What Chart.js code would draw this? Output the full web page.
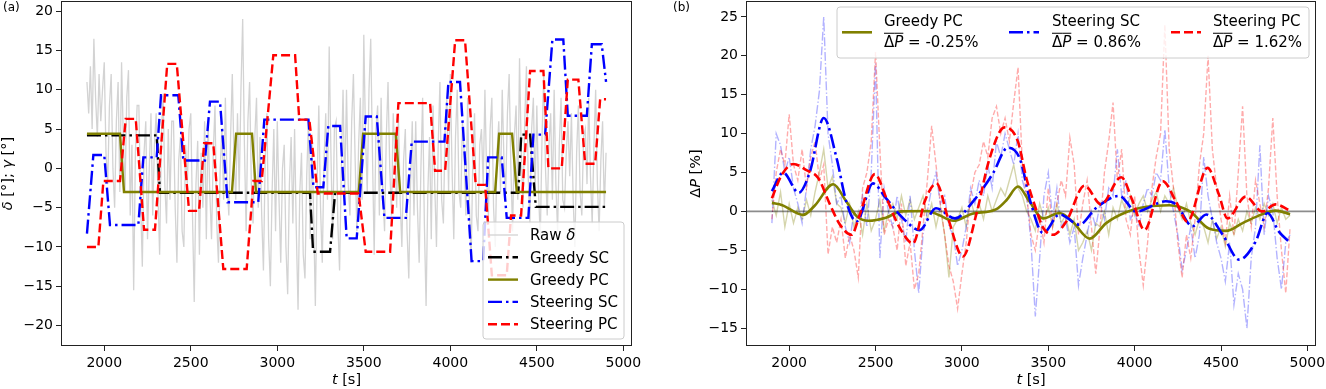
<!DOCTYPE html>
<html>
<head>
<meta charset="utf-8">
<script src="https://cdn.jsdelivr.net/npm/chart.js@4.4.1/dist/chart.umd.min.js"></script>
<style>
  html, body { margin: 0; padding: 0; background: #fff; }
  #wrap { position: relative; width: 1326px; height: 389px; overflow: hidden; }
  .panel { position: absolute; top: 0; width: 663px; height: 389px; }
</style>
</head>
<body>
<div id="wrap">
  <div class="panel" style="left:0"><canvas id="chartA" width="663" height="389"></canvas></div>
  <div class="panel" style="left:663px"><canvas id="chartB" width="663" height="389"></canvas></div>
</div>
<script>
// ---- datos ----
const xTicks = [2000, 2500, 3000, 3500, 4000, 4500, 5000];
const yTicksA = [-20, -15, -10, -5, 0, 5, 10, 15, 20];
const yTicksB = [-15, -10, -5, 0, 5, 10, 15, 20, 25];
const meanLabels = ['-0.25%', '0.86%', '1.62%'];

// panel (a): delta crudo, muestreado cada 10 s
const rawDeltaTimes = [
  1900,1910,1920,1930,1940,1950,1960,1970,1980,1990, 2000,2010,2020,2030,2040,2050,2060,2070,2080,2090,
  2100,2110,2120,2130,2140,2150,2160,2170,2180,2190, 2200,2210,2220,2230,2240,2250,2260,2270,2280,2290,
  2300,2310,2320,2330,2340,2350,2360,2370,2380,2390, 2400,2410,2420,2430,2440,2450,2460,2470,2480,2490,
  2500,2510,2520,2530,2540,2550,2560,2570,2580,2590, 2600,2610,2620,2630,2640,2650,2660,2670,2680,2690,
  2700,2710,2720,2730,2740,2750,2760,2770,2780,2790, 2800,2810,2820,2830,2840,2850,2860,2870,2880,2890,
  2900,2910,2920,2930,2940,2950,2960,2970,2980,2990, 3000,3010,3020,3030,3040,3050,3060,3070,3080,3090,
  3100,3110,3120,3130,3140,3150,3160,3170,3180,3190, 3200,3210,3220,3230,3240,3250,3260,3270,3280,3290,
  3300,3310,3320,3330,3340,3350,3360,3370,3380,3390, 3400,3410,3420,3430,3440,3450,3460,3470,3480,3490,
  3500,3510,3520,3530,3540,3550,3560,3570,3580,3590, 3600,3610,3620,3630,3640,3650,3660,3670,3680,3690,
  3700,3710,3720,3730,3740,3750,3760,3770,3780,3790, 3800,3810,3820,3830,3840,3850,3860,3870,3880,3890,
  3900,3910,3920,3930,3940,3950,3960,3970,3980,3990, 4000,4010,4020,4030,4040,4050,4060,4070,4080,4090,
  4100,4110,4120,4130,4140,4150,4160,4170,4180,4190, 4200,4210,4220,4230,4240,4250,4260,4270,4280,4290,
  4300,4310,4320,4330,4340,4350,4360,4370,4380,4390, 4400,4410,4420,4430,4440,4450,4460,4470,4480,4490,
  4500,4510,4520,4530,4540,4550,4560,4570,4580,4590, 4600,4610,4620,4630,4640,4650,4660,4670,4680,4690,
  4700,4710,4720,4730,4740,4750,4760,4770,4780,4790, 4800,4810,4820,4830,4840,4850,4860,4870,4880,4890,
  4900];
const rawDelta = [
  11,7,13,5,16.5,9,4,12,6,10,        13.5,2,-2,8,12,0,-5,6,11,-3,
  13.5,4,-3,9,12.5,-6,3,-15.5,2,8,   8,-4,-12.5,2,6,-9,0,7,-6,3,
  7,-3,-11,4,9.5,-2,-7,5,-4,6,       6,-5,-12,1,4,-8,-10,3,-2,5,
  7,-6,-17,-2,3.5,-11,2,-5,6,-9,     6,-3,-9,2,8,-7,-12,0,5,-4,
  9,-2,-6,4,12,1,-4,7,-3,10,         19,3,-8,6,11,-2,-7,4,9,-5,
  4,-6,-13,1,7,-9,-15,-3,5,-8,       6,-4,-12,0,3,-10,-16,-2,4,-7,
  5,-8,-18,-3,2,-11,-14,-1,6,-9,     4,-6,-17.5,-2,8,-5,-12,1,7,-4,
  15.5,2,-9,5,6,-7,-13,0,10,-3,      10,-2,-6,6,12,1,-8,3,9,-4,
  17,4,-3,10,16.5,2,-11,5,8,-6,      9,-3,-8,4,11,0,-6,7,2,-5,
  7,-4,-10,1,5,-8,-14,-2,6,-6,       6,-5,-12,0,9,-7,-17.5,-3,4,-9,
  8,-2,-10,3,11,-4,-7,5,9,-3,        12,0,-9,4,10,-3,-5,6,2,-6,
  9,-4,-12,1,7,-6,-8,3,5,-2,         10,-1,-6,5,9,-5,-10,2,6,-3,
  10,1,-3,7,12,0,-8,4,8,-4,          14,2,-5,6,13,-1,-7,5,9,-3,
  8,-3,-9,4,12,0,-6,3,7,-4,          10,-2,-8,3,9,-4,-5,2,6,-1,
  7,-4,-10,2,8,-3,-6,4,5,-2,         9,-1,-7,3,10,-2,-8,1,6,-5,
  2];

// panel (a): consignas escalonadas (tiempo, valor)
const greedySCTimes = [1900,2303,2322,3189,3207,3305,3334,4393,4410,4461,4494,4900];
const greedySCValues = [4.2,4.2,-3.1,-3.1,-10.6,-10.6,-3.1,-3.1,4.3,4.3,-4.9,-4.9];

const greedyPCTimes = [1900,2091,2114,2738,2762,2854,2877,3471,3496,3685,3710,4259,4282,4357,4384,4900];
const greedyPCValues = [4.4,4.4,-3.0,-3.0,4.4,4.4,-3.0,-3.0,4.4,4.4,-3.0,-3.0,4.4,4.4,-3.0,-3.0];

const steerSCTimes = [1900,1937,2000,2033,2197,2226,2303,2328,2428,2457,2582,2611,2669,2713,2890,2925,
  3180,3209,3266,3295,3363,3401,3459,3511,3575,3619,3743,3777,3966,3989,4056,4123,4190,4219,4297,4326,
  4451,4480,4548,4590,4653,4679,4789,4818,4875,4900];
const steerSCValues = [-8.3,1.7,1.7,-7.2,-7.2,1.4,1.4,9.3,9.3,1.0,1.0,8.5,8.5,-4.3,-4.3,6.2,
  6.2,-2.4,-2.4,5.4,5.4,-8.9,-8.9,6.6,6.6,-6.3,-6.3,3.4,3.4,11.0,11.0,-11.8,-11.8,1.4,1.4,-6.3,
  -6.3,4.3,4.3,16.4,16.4,6.7,6.7,15.8,15.8,11.0];

const steerPCTimes = [1900,1966,1995,2091,2124,2182,2230,2293,2364,2419,2490,2548,2577,2630,2688,2823,
  2862,2910,2977,3103,3127,3185,3234,3470,3511,3652,3700,3883,3912,3970,4028,4085,4147,4201,4240,4326,
  4351,4409,4461,4538,4567,4644,4679,4740,4779,4837,4866,4900];
const steerPCValues = [-10,-10,-1.6,-1.6,6.3,6.3,-7.8,-7.8,13.3,13.3,-5.4,-5.4,3.2,3.2,-12.8,-12.8,
  -1.6,-1.6,14.4,14.4,6.2,6.2,-3.2,-3.2,-10.6,-10.6,8.3,8.3,-0.3,-0.3,16.3,16.3,-2.1,-2.1,-13.6,-13.6,
  -6.0,-6.0,12.4,12.4,0,0,11.3,11.3,0.6,0.6,8.8,8.8];

// panel (b): delta P crudo (%), muestreado cada 25 s
const rawTimes = [1900,1925,1950,1975,2000,2025,2050,2075,2100,2125,2150,2175,2200,2225,2250,2275,
  2300,2325,2350,2375,2400,2425,2450,2475,2500,2525,2550,2575,2600,2625,2650,2675,2700,2725,2750,2775,
  2800,2825,2850,2875,2900,2925,2950,2975,3000,3025,3050,3075,3100,3125,3150,3175,3200,3225,3250,3275,
  3300,3325,3350,3375,3400,3425,3450,3475,3500,3525,3550,3575,3600,3625,3650,3675,3700,3725,3750,3775,
  3800,3825,3850,3875,3900,3925,3950,3975,4000,4025,4050,4075,4100,4125,4150,4175,4200,4225,4250,4275,
  4300,4325,4350,4375,4400,4425,4450,4475,4500,4525,4550,4575,4600,4625,4650,4675,4700,4725,4750,4775,
  4800,4825,4850,4875,4900];

const rawDPGreedyPC = [1.5,-0.5,2.5,-2, 1,-1.5,0.5,-1, 1.5,-0.5,2.5,5, 8,3,4.5,1, 0.5,-1.5,1,-2,
  0,-3,1,-2.5, -1,1.5,-2.5,0, 1,-1,2,-0.5, 1.5,-1,0.5,2, -1,1,-2,0.5,
  -3,-8.5,-2,-1, 0.5,-2,1.5,-0.5, 1,-1,2,0, 1.5,3,2,4, 6,3,2,0,
  -1,-2.5,1,-1, 0.5,-2,1,-1.5, -0.5,-3,-1,-5, -4,-2.5,-5,-1.5, -2,0,-3,0.5,
  -1,1.5,0,2, -0.5,1,2,0, 1.5,2.5,0,2, 1,3,0.5,-1, 1,-1.5,-3,-1,
  -2,-4,-1,-3.5, -2,-4.5,-1.5,-3, -1,-2.5,0,-1.5, 0.5,-1,1,-0.5, 1,-1.5,0.5,-1, -0.5];

const rawDPSteerSC = [-1.5,10,8.5,5, 7,3,1,-1.5, 3,8,11,15.5, 25,10,6,1, 2,-2,-4,0,
  -1,2,-2,5, 19,-6,3,0, -2,2,-1,-4, 2,-5,-10.5,-3, 0,3,5,1,
  2,-2,-3,-7, -5,-2,3,1, 4,2,6,3, 9,7,10,8, 6,10,4,2,
  -4,-13.5,-6,2, 5,-1,3,-2, -1,-4,-2,-9.5, -6,-3,0,-2, 1,-1,3,2,
  8,2,4,-1, 0,-2,1,3, 2,5,4,10.5, 3,0,-3,-7.5, -5,-2,-6,-3,
  7,2,-1,-4, -6,-9,-4,-12, -8,-10,-15,-6, -2,8.5,-3,2, 0,-6,-10,-4, -3];

const rawDPSteerPC = [-1,5,8,6, 12.5,6,4,8, 3,7,9,4, 6,-5.5,-2,-4, -1,-6,-3,-5,
  -8.5,3,5,9, 20.5,8,-3,-1, -2,-5,1,-7, -4,-10,-8,-2, 4,11,6,1,
  -3,-7,-9,-12.5, -8,-4,2,5, 6,9,7,12, 13.5,10,12,9, 14,18.5,6,2,
  -3,-5,-1,-4, 3,-2,1,4, 2,9.5,6,-3, 1,4,-2,-8, -2,5,9,14,
  4,8,-1,-3, 2,-5,-9.5,-4, 3,7,10,24, 8,3,-4,-8.5, -3,-6,-1,6,
  10,20,8,3, -1,-4,2,-3, 5,13.5,2,-2, 4,1,-2,3, 12,2,-5,-10.5, -2];

// panel (b): curvas suavizadas
const smoothGreedyPCTimes = [1900,1960,2080,2150,2255,2330,2390,2460,2560,2650,2800,2870,2950,3060,3200,3260,
  3325,3390,3470,3565,3640,3740,3835,3950,4070,4200,4320,4430,4530,4625,4740,4816,4900];
const smoothGreedyPC = [1.1,0.8,-0.45,0.8,3.5,1.3,-0.6,-1.2,-0.8,0,0.05,-0.5,-1.2,-0.3,0.3,1.5,
  3.2,1.3,-0.9,-0.2,-1.3,-3.5,-1.5,-0.1,0.6,0.8,0,-2.2,-2.5,-1.5,-0.35,0.1,-0.35];

const smoothSteerSCTimes = [1900,1965,2055,2120,2200,2275,2330,2390,2485,2560,2660,2755,2850,2960,3065,3180,
  3265,3335,3400,3470,3565,3680,3775,3910,4010,4180,4240,4335,4415,4510,4605,4700,4770,4835,4900];
const smoothSteerSC = [2.6,5.0,2.4,5.1,12.0,6.8,1.3,-1.3,3.6,1.7,-0.9,-2.4,0.4,-0.9,1.3,4.9,
  8.2,6.8,1.0,-2.8,-0.4,-1.7,0.4,2.0,0,1.3,0.9,-1.9,-0.4,-3.0,-6.2,-3.9,-0.2,-2.6,-4.0];

const smoothSteerPCTimes = [1900,1957,2025,2100,2168,2236,2294,2361,2409,2496,2563,2640,2717,2785,2853,2920,
  3006,3083,3160,3247,3324,3373,3440,3470,3527,3604,3710,3806,3922,3989,4057,4162,4239,4306,4422,4489,
  4537,4643,4739,4816,4900];
const smoothSteerPC = [1.7,4.7,6.1,5.3,4.3,0.9,-1.7,-3.0,-0.4,4.8,1.7,-2.1,-4.1,1.3,3.6,-0.9,
  -5.8,-0.4,6.8,10.8,9.0,4.3,-0.4,-2.1,-3.0,-1.3,3.3,0.9,4.4,1.3,-2.4,3.9,1.3,-1.3,5.6,2.1,
  -0.9,1.9,0,0.9,0.1];

// ---- estilos ----
const FONT = '"DejaVu Sans", "Liberation Sans", sans-serif';
const DASHDOT = [14, 4, 2.5, 4];
const DASHED = [9, 4];
const styleRaw = { color: '#d3d3d3', width: 1.3, dash: [] };
const styleGreedySC = { color: '#000000', width: 2.4, dash: DASHDOT };
const styleGreedyPC = { color: '#808000', width: 2.4, dash: [] };
const styleSteerSC = { color: '#0000ff', width: 2.4, dash: DASHDOT };
const styleSteerPC = { color: '#ff0000', width: 2.4, dash: DASHED };

const pts = (xs, ys) => xs.map((t, i) => ({ x: t, y: ys[i] }));
const fmt = v => (v < 0 ? '\u2212' + (-v) : String(v));

// ---- texto enriquecido (cursiva / sobrerrayado) ----
function setFont(ctx, size, italic) {
  ctx.font = (italic ? 'italic ' : '') + size + 'px ' + FONT;
}
function richWidth(ctx, parts, size) {
  let w = 0;
  parts.forEach(p => { setFont(ctx, size, p.it); w += ctx.measureText(p.t).width; });
  return w;
}
function drawRich(ctx, parts, x, y, size, align) {
  let cx = align === 'center' ? x - richWidth(ctx, parts, size) / 2 : x;
  ctx.fillStyle = '#000';
  ctx.textAlign = 'left';
  ctx.textBaseline = 'alphabetic';
  parts.forEach(p => {
    setFont(ctx, size, p.it);
    const w = ctx.measureText(p.t).width;
    ctx.fillText(p.t, cx, y);
    if (p.ol) ctx.fillRect(cx, y - size * 0.97, w, 1);
    cx += w;
  });
}
function drawSample(ctx, x0, x1, y, st) {
  ctx.save();
  ctx.strokeStyle = st.color;
  ctx.lineWidth = st.width;
  ctx.setLineDash(st.dash || []);
  ctx.beginPath();
  ctx.moveTo(x0, y);
  ctx.lineTo(x1, y);
  ctx.stroke();
  ctx.restore();
}
function legendBox(ctx, x, y, w, h) {
  const r = 3;
  ctx.save();
  ctx.beginPath();
  ctx.moveTo(x + r, y);
  ctx.arcTo(x + w, y, x + w, y + h, r);
  ctx.arcTo(x + w, y + h, x, y + h, r);
  ctx.arcTo(x, y + h, x, y, r);
  ctx.arcTo(x, y, x + w, y, r);
  ctx.closePath();
  ctx.fillStyle = 'rgba(255,255,255,0.8)';
  ctx.fill();
  ctx.strokeStyle = '#cccccc';
  ctx.lineWidth = 1;
  ctx.stroke();
  ctx.restore();
}
function drawFrame(ctx, ca) {
  ctx.save();
  ctx.strokeStyle = '#222';
  ctx.lineWidth = 1;
  ctx.strokeRect(Math.round(ca.left) + 0.5, Math.round(ca.top) + 0.5,
    Math.round(ca.right - ca.left) - 1, Math.round(ca.bottom - ca.top) - 1);
  ctx.restore();
}

const legendA = [
  { parts: [{ t: 'Raw ' }, { t: '\u03b4', it: 1 }], style: styleRaw },
  { parts: [{ t: 'Greedy SC' }], style: styleGreedySC },
  { parts: [{ t: 'Greedy PC' }], style: styleGreedyPC },
  { parts: [{ t: 'Steering SC' }], style: styleSteerSC },
  { parts: [{ t: 'Steering PC' }], style: styleSteerPC }
];
const legendB = [
  { name: 'Greedy PC', style: { color: '#808000', width: 2.6, dash: [] }, off: [5, 47] },
  { name: 'Steering SC', style: { color: '#0000ff', width: 2.6, dash: DASHDOT }, off: [172, 215] },
  { name: 'Steering PC', style: { color: '#ff0000', width: 2.6, dash: DASHED }, off: [334, 376] }
];

const decorA = {
  id: 'decorA',
  afterDraw(chart) {
    const ctx = chart.ctx, ca = chart.chartArea;
    drawFrame(ctx, ca);
    ctx.save();
    drawRich(ctx, [{ t: '(a)' }], 3, 11, 12, 'left');
    drawRich(ctx, [{ t: 't', it: 1 }, { t: ' [s]' }], (ca.left + ca.right) / 2, 384, 14.5, 'center');
    ctx.translate(12, (ca.top + ca.bottom) / 2);
    ctx.rotate(-Math.PI / 2);
    drawRich(ctx, [{ t: '\u03b4', it: 1 }, { t: ' [\u00b0]; ' }, { t: '\u03b3', it: 1 }, { t: ' [\u00b0]' }], 0, 0, 14.5, 'center');
    ctx.restore();
    // leyenda abajo a la derecha
    const w = 141, h = 117, x = ca.right - 8 - w, y = ca.bottom - 7 - h;
    legendBox(ctx, x, y, w, h);
    legendA.forEach((item, i) => {
      const cy = y + 13 + i * 22.3;
      drawSample(ctx, x + 5, x + 35, cy, item.style);
      drawRich(ctx, item.parts, x + 47, cy + 5.2, 15, 'left');
    });
  }
};

const decorB = {
  id: 'decorB',
  afterDraw(chart) {
    const ctx = chart.ctx, ca = chart.chartArea;
    drawFrame(ctx, ca);
    ctx.save();
    drawRich(ctx, [{ t: '(b)' }], 10, 11, 12, 'left');
    drawRich(ctx, [{ t: 't', it: 1 }, { t: ' [s]' }], (ca.left + ca.right) / 2, 384, 14.5, 'center');
    ctx.translate(37, (ca.top + ca.bottom) / 2);
    ctx.rotate(-Math.PI / 2);
    drawRich(ctx, [{ t: '\u0394' }, { t: 'P', it: 1 }, { t: ' [%]' }], 0, 0, 14.5, 'center');
    ctx.restore();
    // leyenda arriba, tres columnas
    const w = 472, h = 51, x = ca.right - 7 - w, y = ca.top + 6;
    legendBox(ctx, x, y, w, h);
    legendB.forEach((item, i) => {
      const sx = x + item.off[0], tx = x + item.off[1];
      drawSample(ctx, sx, sx + 30, y + 25.3, item.style);
      drawRich(ctx, [{ t: item.name }], tx, y + 19, 15, 'left');
      drawRich(ctx, [{ t: '\u0394', ol: 1 }, { t: 'P', it: 1, ol: 1 }, { t: ' = ' + meanLabels[i] }], tx, y + 40.3, 15, 'left');
    });
  }
};

function fixSize(size) {
  return function (scale) {
    if (scale.isHorizontal()) scale.height = size; else scale.width = size;
    scale.paddingTop = 0; scale.paddingBottom = 0; scale.paddingLeft = 0; scale.paddingRight = 0;
  };
}

function opciones(yMin, yMax, yTicks, yWidth, padRight) {
  const tickFont = { family: FONT, size: 14 };
  return {
    responsive: false,
    animation: false,
    devicePixelRatio: 1,
    events: [],
    layout: { padding: { left: 0, right: padRight, top: 1, bottom: 0 } },
    plugins: { legend: { display: false }, tooltip: { enabled: false } },
    elements: { point: { radius: 0 }, line: { borderCapStyle: 'butt', borderJoinStyle: 'miter' } },
    scales: {
      x: {
        type: 'linear', min: 1750, max: 5050,
        afterBuildTicks: s => { s.ticks = xTicks.map(v => ({ value: v })); },
        afterFit: fixSize(43),
        border: { display: false },
        grid: { drawOnChartArea: false, drawTicks: true, tickLength: 5, tickColor: '#222' },
        ticks: { font: tickFont, color: '#000', padding: 4, maxRotation: 0, autoSkip: false, callback: v => fmt(v) }
      },
      y: {
        type: 'linear', min: yMin, max: yMax,
        afterBuildTicks: s => { s.ticks = yTicks.map(v => ({ value: v })); },
        afterFit: fixSize(yWidth),
        border: { display: false },
        grid: { drawOnChartArea: false, drawTicks: true, tickLength: 5, tickColor: '#222' },
        ticks: { font: tickFont, color: '#000', padding: 3, autoSkip: false, callback: v => fmt(v) }
      }
    }
  };
}

function linea(data, st, order, extra) {
  return Object.assign({
    data: data, borderColor: st.color, borderWidth: st.width, borderDash: st.dash,
    pointRadius: 0, fill: false, tension: 0, order: order
  }, extra || {});
}

// ---- panel (a) ----
new Chart(document.getElementById('chartA'), {
  type: 'line',
  data: {
    datasets: [
      linea(pts(steerPCTimes, steerPCValues), styleSteerPC, 0),
      linea(pts(steerSCTimes, steerSCValues), styleSteerSC, 1),
      linea(pts(greedyPCTimes, greedyPCValues), styleGreedyPC, 2),
      linea(pts(greedySCTimes, greedySCValues), styleGreedySC, 3),
      linea(pts(rawDeltaTimes, rawDelta), styleRaw, 4)
    ]
  },
  options: opciones(-22.6, 21.3, yTicksA, 61, 31),
  plugins: [decorA]
});

// ---- panel (b) ----
const smooth = { cubicInterpolationMode: 'monotone' };
new Chart(document.getElementById('chartB'), {
  type: 'line',
  data: {
    datasets: [
      linea(pts(smoothSteerPCTimes, smoothSteerPC), { color: '#ff0000', width: 2.6, dash: DASHED }, 0, smooth),
      linea(pts(smoothSteerSCTimes, smoothSteerSC), { color: '#0000ff', width: 2.6, dash: DASHDOT }, 1, smooth),
      linea(pts(smoothGreedyPCTimes, smoothGreedyPC), { color: '#808000', width: 2.6, dash: [] }, 2, smooth),
      linea([{ x: 1750, y: 0 }, { x: 5050, y: 0 }], { color: 'rgba(0,0,0,0.45)', width: 1.6, dash: [] }, 3),
      linea(pts(rawTimes, rawDPSteerPC), { color: 'rgba(255,0,0,0.33)', width: 1.4, dash: [5, 2.2] }, 4),
      linea(pts(rawTimes, rawDPSteerSC), { color: 'rgba(0,0,255,0.3)', width: 1.4, dash: [8.9, 2.2, 1.4, 2.2] }, 5),
      linea(pts(rawTimes, rawDPGreedyPC), { color: 'rgba(128,128,0,0.33)', width: 1.4, dash: [] }, 6)
    ]
  },
  options: opciones(-17.3, 27.05, yTicksB, 83, 10),
  plugins: [decorB]
});
</script>
</body>
</html>
